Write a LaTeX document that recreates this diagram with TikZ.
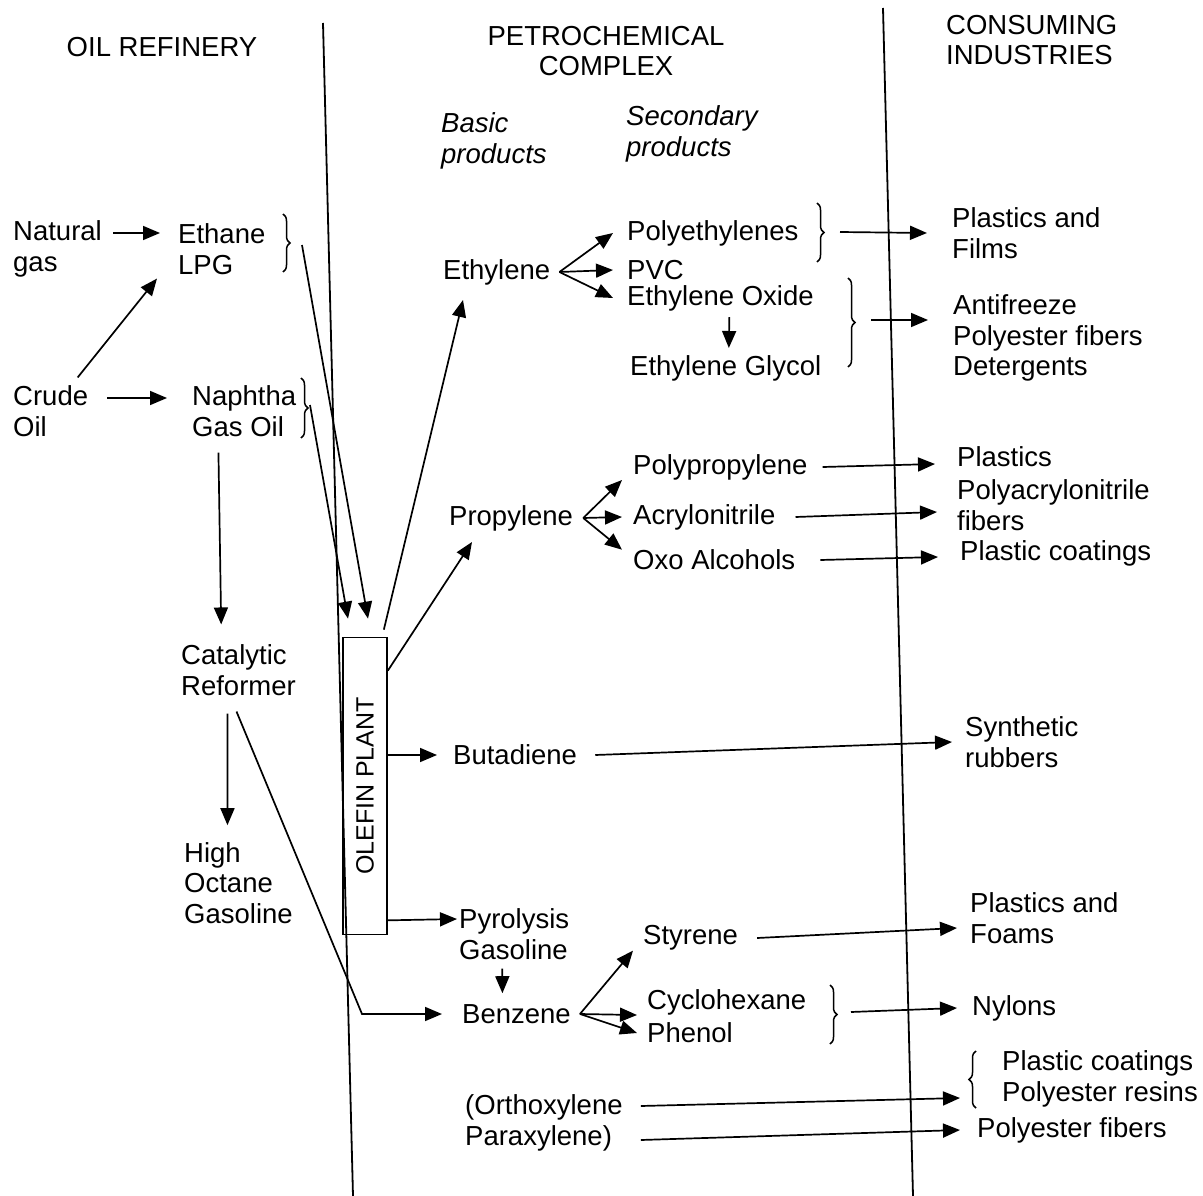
\documentclass[tikz,border=0pt]{standalone}
\usepackage{fontspec}
\setmainfont{Liberation Sans}
\usetikzlibrary{arrows.meta,decorations.pathreplacing}

\newcommand{\diagfont}{\fontsize{27.5}{30.5}\selectfont}

\tikzset{
    txt/.style={anchor=west, align=left, inner sep=0pt},
    arr/.style={line width=1.7pt, -{Triangle[length=17pt,width=14pt]}},
    divider/.style={line width=1.8pt},
    brc/.style={line width=1.5pt, decorate, decoration={brace, amplitude=7pt}},
    plantbox/.style={draw, line width=1.7pt, minimum width=44pt, minimum height=297pt, inner sep=0pt}
}

\begin{document}
\begin{tikzpicture}[x=1pt, y=-1pt, font=\diagfont]
    \useasboundingbox (0,0) rectangle (1203,1196);

    % headings
    \node (refinery) at (162,47) {OIL REFINERY};
    \node[align=center] (complex) at (606,51) {PETROCHEMICAL\\COMPLEX};
    \node[txt] (consuming) at (946,40) {CONSUMING\\INDUSTRIES};
    \node[txt, font=\diagfont\itshape] (basic) at (441,141) {Basic\\products};
    \node[txt, font=\diagfont\itshape] (secondary) at (626,134) {Secondary\\products};

    \draw[divider] (323,23) -- (353,1196);
    \draw[divider] (883,8) -- (913,1196);

    % oil refinery
    \node[txt] (natural)  at (13,249)  {Natural\\gas};
    \node[txt] (ethane)   at (178,249) {Ethane\\LPG};
    \node[txt] (crude)    at (13,411)  {Crude\\Oil};
    \node[txt] (naphtha)  at (192,411) {Naphtha\\Gas Oil};
    \node[txt] (reformer) at (181,670) {Catalytic\\Reformer};
    \node[txt] (gasoline) at (184,883) {High\\Octane\\Gasoline};

    \draw[brc] (283,214) -- (283,272);
    \draw[brc] (301,378) -- (301,438);
    \coordinate (lpgout)  at (302,245);
    \coordinate (naphout) at (310,405);

    \draw[arr] ([xshift=11pt,yshift=16pt]natural.east) -- ([xshift=-18pt,yshift=16pt]ethane.west);
    \draw[arr] ([xshift=27pt,yshift=8pt]crude.north) -- ([xshift=-21pt,yshift=-4pt]ethane.south west);
    \draw[arr] ([xshift=19pt,yshift=13pt]crude.east) -- ([xshift=-25pt,yshift=13pt]naphtha.west);
    \draw[arr, shorten <=16pt, shorten >=20pt] ([xshift=-26pt]naphtha.south) -- ([xshift=-17pt]reformer.north);
    \draw[arr, shorten <=18pt, shorten >=17pt] ([xshift=-11pt]reformer.south) -- ([xshift=-11pt]gasoline.north);

    % olefin plant
    \node[plantbox] (plant) at (365,786) {};
    \node[rotate=90, font=\fontsize{25}{28}\selectfont] (plantname) at (plant) {OLEFIN PLANT};

    \draw[arr] (lpgout) -- ([xshift=3pt,yshift=18pt]plant.north);
    \draw[arr] (naphout) -- ([xshift=-17pt,yshift=18pt]plant.north);

    % basic products
    \node[txt] (ethylene)  at (443,272) {Ethylene};
    \node[txt] (propylene) at (449,518) {Propylene};
    \node[txt] (butadiene) at (453,755) {Butadiene};
    \node[txt] (pyrolysis) at (459,934) {Pyrolysis\\Gasoline};
    \node[txt] (benzene)   at (462,1014) {Benzene};
    \node[txt] (xylenes)   at (465,1123) {(Orthoxylene\\Paraxylene)};

    \draw[arr] ([xshift=-4pt,yshift=7pt]plant.north east) -- ([xshift=20pt,yshift=-15pt]ethylene.south west);
    \draw[arr] ([yshift=-34pt]plant.north east) -- ([xshift=23pt,yshift=-11pt]propylene.south west);
    \draw[arr] ([yshift=31pt]plant.east) -- ([xshift=-16pt]butadiene.west);
    \draw[arr] ([yshift=15pt]plant.south east) -- ([xshift=-2pt,yshift=15pt]pyrolysis.west);
    \draw[arr, shorten <=9pt, shorten >=11pt] ([xshift=-12pt]pyrolysis.south) -- ([xshift=-14pt]benzene.north);
    \draw[arr] ([shift={(-2pt,-16pt)}]reformer.south) -- ([xshift=-100pt]benzene.west) -- ([xshift=-20pt]benzene.west);

    % secondary products
    \node[txt] (polyethylenes) at (627,233) {Polyethylenes};
    \node[txt] (pvc)           at (627,270) {PVC};
    \node[txt] (eoxide)        at (627,298) {Ethylene Oxide};
    \node[txt] (eglycol)       at (630,368) {Ethylene Glycol};
    \node[txt] (polypropylene) at (633,467) {Polypropylene};
    \node[txt] (acrylonitrile) at (633,517) {Acrylonitrile};
    \node[txt] (oxo)           at (633,560) {Oxo Alcohols};
    \node[txt] (styrene)       at (643,938) {Styrene};
    \node[txt] (cyclo)         at (647,1002) {Cyclohexane};
    \node[txt] (phenol)        at (647,1033) {Phenol};

    \foreach \dest in {polyethylenes.west, pvc.west, eoxide.west}
        \draw[arr] ([xshift=9pt]ethylene.east) -- ([xshift=-14pt]\dest);
    \foreach \dest in {polypropylene.south west, acrylonitrile.west, oxo.north west}
        \draw[arr] ([xshift=10pt]propylene.east) -- ([xshift=-11pt]\dest);
    \foreach \dest in {styrene.south west, cyclo.south west, phenol.west}
        \draw[arr] ([xshift=9pt]benzene.east) -- ([xshift=-10pt]\dest);
    \draw[arr, shorten <=6pt, shorten >=7pt] ([xshift=9pt]eoxide.south) -- ([xshift=3pt]eglycol.north);

    \draw[brc] (817,203) -- (817,262);
    \draw[brc] (848,278) -- (848,367);
    \draw[brc] (830,985) -- (830,1044);
    \coordinate (pebrace) at (840,232);
    \coordinate (eobrace) at (871,320);
    \coordinate (cpbrace) at (851,1012);

    % consuming industries
    \node[txt] (films)      at (952,233)  {Plastics and\\Films};
    \node[txt] (antifreeze) at (953,338)  {Antifreeze\\Polyester fibers\\Detergents};
    \node[txt] (plastics)   at (957,457)  {Plastics};
    \node[txt] (pan)        at (957,505)  {Polyacrylonitrile\\fibers};
    \node[txt] (coatings)   at (960,553)  {Plastic coatings};
    \node[txt] (rubbers)    at (965,742)  {Synthetic\\rubbers};
    \node[txt] (foams)      at (970,918)  {Plastics and\\Foams};
    \node[txt] (nylons)     at (972,1008) {Nylons};
    \node[txt] (resins)     at (1002,1079) {Plastic coatings\\Polyester resins};
    \node[txt] (polyfibers) at (977,1130) {Polyester fibers};

    \draw[brc] (976,1108) -- (976,1051);

    \draw[arr] (pebrace) -- ([xshift=-25pt]films.west);
    \draw[arr] (eobrace) -- ([xshift=-25pt,yshift=18pt]antifreeze.west);
    \draw[arr] ([xshift=15pt]polypropylene.east) -- ([xshift=-22pt,yshift=-7pt]plastics.west);
    \draw[arr] ([xshift=20pt]acrylonitrile.east) -- ([xshift=-20pt,yshift=-7pt]pan.west);
    \draw[arr] ([xshift=25pt]oxo.east) -- ([xshift=-22pt,yshift=-4pt]coatings.west);
    \draw[arr] ([xshift=18pt]butadiene.east) -- ([xshift=-13pt]rubbers.west);
    \draw[arr] ([xshift=19pt]styrene.east) -- ([xshift=-13pt,yshift=-10pt]foams.west);
    \draw[arr] (cpbrace) -- ([xshift=-15pt]nylons.west);
    \draw[arr] ([xshift=18pt,yshift=17pt]xylenes.east) -- ([xshift=-42pt,yshift=-19pt]resins.west);
    \draw[arr] ([xshift=18pt,yshift=-17pt]xylenes.east) -- ([xshift=-17pt]polyfibers.west);
\end{tikzpicture}
\end{document}
